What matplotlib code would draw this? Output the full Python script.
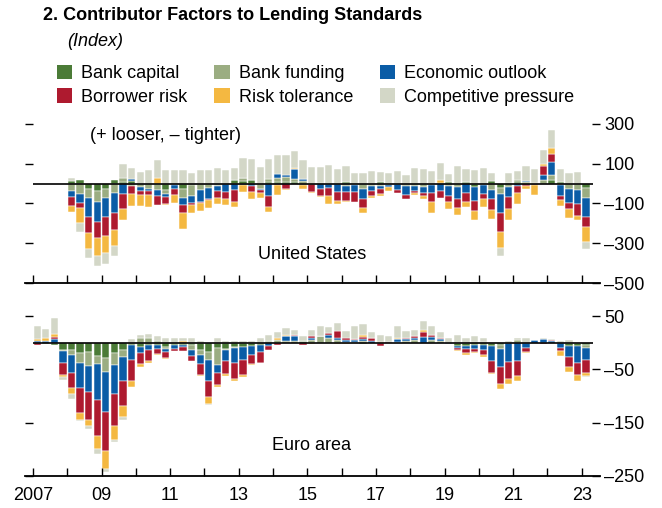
import matplotlib
matplotlib.use("Agg")
import matplotlib.pyplot as plt
from matplotlib.patches import Patch
from matplotlib import font_manager
import numpy as np

# factor names and colours
factors = ["Bank capital", "Bank funding", "Economic outlook",
           "Borrower risk", "Risk tolerance", "Competitive pressure"]
colors = ["#4b7b37", "#9bad82", "#0a5ca6", "#ae1a2f", "#f4b841", "#d3d7c7"]

# United States, 2008Q1 - 2023Q1
us_capital = [12, 17, -28, -38, -28, 17, 8, 13, 0, 0, 0, -33, 0, -28, -5, 0, 0, -8, 0, 20,
              13, 17, 0, 8, 8, 8, 8, -8, 0, 3, 0, 0, 8, 0, 0, 0, 8, -5, 0, 0,
              0, 0, -5, 5, 8, 0, 8, -15, 0, 12, -20, 5, 7, 0, 0, 0, 17, 8, 0, 0, -20]
us_funding = [-35, -53, -43, -57, -43, -47, 22, -13, -17, -25, -33, -20, -5, -43, -55, -30, -20, -5, 0, 0,
              17, 0, -25, 13, 22, 25, 13, 13, 0, 0, 0, 0, -12, -8, -25, -12, -12, 0, 0, -12,
              -12, -17, 0, 0, -12, -17, 0, 0, -5, -30, -33, -15, 13, 10, 5, 20, 25, -5, -25, -33, -50]
us_outlook = [-33, -47, -98, -100, -98, -100, -50, 8, -22, -13, -28, -12, -20, -37, -40, -65, -55, -25, -42, -33,
              -5, -10, -8, -63, 20, 12, 50, 12, 0, -25, -22, -42, -30, -35, -53, -25, -13, -12, -33, -47,
              -25, -30, -42, -37, -48, -58, -45, -75, -45, -45, -97, -53, -13, 5, 0, 25, 67, -58, -75, -72, -100]
us_borrower = [-47, -22, -80, -77, -97, -87, -78, -37, -20, -20, -47, -40, -30, -38, -8, -5, -8, -35, -37, -58,
               0, -33, -12, -57, -8, -25, 0, 0, -42, -38, -42, -47, -45, -50, -43, -25, -25, 0, -13, -20,
               -8, -17, -47, -33, -33, -47, -50, -50, -30, -58, -95, -60, -33, -12, -8, 43, 38, -20, -28, -58, -50]
us_risktol = [-28, -75, -78, -90, -83, -80, -55, -62, -53, -58, 30, -5, -42, -83, -38, -40, -42, -30, -30, -25,
              -37, -35, -25, -25, -47, -7, 7, -17, -5, -3, -37, -12, -8, 0, -25, -8, -12, -22, 0, 0,
              -10, -15, -52, 12, -33, -37, -25, -45, -37, -47, -80, -53, -58, -17, -50, 12, 32, -30, -43, -20, -75]
us_compet = [18, -48, -47, -50, -53, -48, 67, 58, 58, 70, 87, 70, 70, 70, 55, 67, 70, 78, 70, 58,
             100, 105, 83, 103, 95, 97, 85, 95, 83, 80, 92, 75, 78, 55, 55, 62, 50, 55, 63, 45,
             77, 75, 62, 87, 42, 88, 63, 68, 78, 43, -37, 50, 42, 72, 70, 67, 93, 63, 55, 58, -35]

# Euro area, 2007Q1 - 2023Q1
ea_capital = [-1, -2, -4, -13, -14, -19, -18, -24, -28, -20, -13, -5, -8, -5, -4, -7, -5, -4, -5, -13,
              -18, -10, -11, -7, -8, -6, -4, 0, 0, 0, 0, 4, 0, 0, 0, 0, 0, 0, -3, 0,
              0, 0, 0, 0, 0, 0, 0, 0, 0, -6, -6, -5, -5, -6, -5, 0, 0, 0, 0, 0, 0, 0, -6, -6, -4]
ea_funding = [0, 0, 0, -3, -9, -18, -26, -16, -26, -22, -13, 0, 9, 9, 4, -4, 0, 0, -8, -9,
              -15, -31, -3, -3, 0, 0, 0, 4, 6, 4, 4, 0, 6, 12, 9, 6, 2, 2, 4, 0,
              0, 0, 2, 4, 6, 0, 6, 4, 0, 0, 0, 2, 2, 0, -6, 0, 6, 0, 0, 0, 0, 0, 0, 0, -6]
ea_outlook = [3, 4, 8, -22, -34, -47, -49, -68, -76, -55, -45, -27, -11, -9, -7, -6, -6, -4, -11, -17,
              -38, -15, -21, -28, -25, -16, -14, -6, 0, 8, 8, 0, 3, 0, 6, 4, 3, 3, 4, 3,
              0, 0, 5, 4, 3, 11, 5, 3, -2, -4, -6, -6, -9, -28, -34, -36, -35, -9, 6, 7, 4, -10, -21, -31, -23]
ea_borrower = [-4, 0, 3, -23, -28, -47, -51, -67, -73, -59, -47, -39, -20, -21, -10, -11, -5, -7, -11, -21,
               -30, -23, -24, -30, -28, -18, -19, -8, -5, 0, 3, -5, 4, 0, 4, 12, 4, 2, 3, 6,
               -6, 2, 0, 1, 4, 9, 4, 3, 0, -4, -8, -6, -9, -22, -33, -31, -28, -8, 0, -3, 2, -6, -18, -24, -23]
ea_risktol = [4, 6, 5, -4, -12, -14, -12, -25, -33, -26, -22, -11, -6, -3, -2, -3, 0, 3, 0, -3,
              -14, -4, -3, -3, -3, -2, -1, 0, 4, 3, 0, 0, -2, 0, 0, -2, -2, 0, 3, 0,
              2, 0, 3, 0, 0, 5, 0, 0, 0, -2, -3, -3, -3, -2, -8, -11, -9, -2, 0, 0, 0, -8, -9, -11, -6]
ea_compet = [24, 16, 30, -4, -8, -2, -5, -8, -7, -5, -5, 7, 5, 7, 9, 9, 9, 6, 9, 4,
             -2, 9, 4, 4, 3, 4, 10, 11, 11, 13, 10, 9, 11, 19, 11, 16, 14, 25, 22, 11,
             12, 11, 21, 14, 11, 16, 17, 11, 9, 14, 9, 11, 8, 0, 0, 4, 3, 9, 0, 3, 2, 4, 5, 0, -3]

year_ticks = list(range(2007, 2024))
year_labels = ["2007", "", "09", "", "11", "", "13", "", "15", "", "17", "", "19", "", "21", "", "23"]

names = [f.name for f in font_manager.fontManager.ttflist]
fam = "Liberation Sans" if "Liberation Sans" in names else "DejaVu Sans"
plt.rcParams["font.family"] = fam
plt.rcParams["font.size"] = 13


def quarters(start_year, n):
    return start_year + np.arange(n) / 4.0 + 0.125


def stacked(ax, x, series):
    pos = np.zeros(len(x))
    neg = np.zeros(len(x))
    for vals, col in zip(series, colors):
        v = np.array(vals, dtype=float)
        bottom = np.where(v >= 0, pos, neg)
        ax.bar(x, v, bottom=bottom, width=0.21, color=col, edgecolor="white", linewidth=0.35)
        pos += np.where(v >= 0, v, 0)
        neg += np.where(v < 0, v, 0)


def style(ax, ylim, yticks, labels, show_x):
    ax.set_xlim(2006.77, 2023.53)
    ax.set_ylim(*ylim)
    for s in ["top", "left", "right"]:
        ax.spines[s].set_visible(False)
    ax.spines["bottom"].set_linewidth(1.3)
    ax.hlines(0, 2007, 2023.33, color="black", lw=1.2, zorder=5)
    ax.set_yticks(yticks)
    ax.set_yticklabels(labels)
    ax.tick_params(axis="y", which="both", direction="in", length=6, width=1,
                   left=True, right=True, labelleft=False, labelright=True, pad=3)
    ax.set_xticks(year_ticks)
    ax.set_xticklabels(year_labels if show_x else [""] * len(year_ticks))
    ax.tick_params(axis="x", direction="in", length=6, width=1, pad=8)


fig = plt.figure(figsize=(6.62, 5.08), dpi=100)
ax1 = fig.add_axes([0.0378, 0.4429, 0.8685, 0.3327])
ax2 = fig.add_axes([0.0378, 0.063, 0.8685, 0.367])

stacked(ax1, quarters(2008, len(us_capital)),
        [us_capital, us_funding, us_outlook, us_borrower, us_risktol, us_compet])
stacked(ax2, quarters(2007, len(ea_capital)),
        [ea_capital, ea_funding, ea_outlook, ea_borrower, ea_risktol, ea_compet])

style(ax1, (-500, 350), [300, 100, -100, -300, -500], ["300", "100", "–100", "–300", "–500"], False)
style(ax2, (-250, 100), [50, -50, -150, -250], ["50", "–50", "–150", "–250"], True)

ax1.text(0.245, 0.872, "(+ looser, – tighter)", transform=ax1.transAxes, ha="center", va="center")
ax1.text(0.499, 0.166, "United States", transform=ax1.transAxes, ha="center", va="center")
ax2.text(0.499, 0.161, "Euro area", transform=ax2.transAxes, ha="center", va="center")

fig.text(43 / 662, 1 - 16 / 508, "2. Contributor Factors to Lending Standards",
         fontweight="bold", ha="left", va="center", fontsize=13)
fig.text(67 / 662, 1 - 41 / 508, "(Index)", style="italic", ha="left", va="center", fontsize=13)

handles = [Patch(facecolor=c, edgecolor="none") for c in colors]
order = [0, 3, 1, 4, 2, 5]
fig.legend([handles[i] for i in order], [factors[i] for i in order], ncol=3,
           loc="upper left", bbox_to_anchor=(57 / 662, 1 - 65 / 508), frameon=False,
           handlelength=0.85, handleheight=0.85, handletextpad=0.5, columnspacing=1.48,
           labelspacing=0.32, borderpad=0, borderaxespad=0)

fig.savefig("out.png", dpi=100)
